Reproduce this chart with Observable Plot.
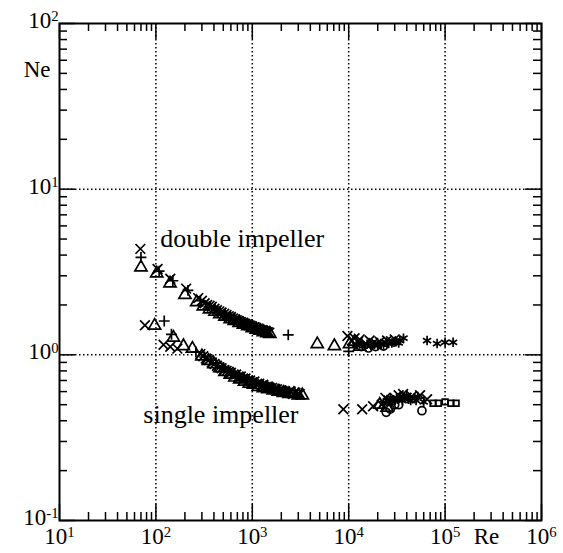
<!DOCTYPE html>
<html><head><meta charset="utf-8">
<script src="https://cdn.jsdelivr.net/npm/d3@7"></script>
<script src="https://cdn.jsdelivr.net/npm/@observablehq/plot@0.6"></script>
<style>body{margin:0;background:#fff}</style>
</head><body><div id="chart"></div>
<script>
// Double impeller series [Re, Ne]
const doubleTimes = [[69,4.36],[104,3.3],[141,2.88],[206,2.51],[275,2.2],[300,2.12],[320,2.05],[340,2.0],[360,1.98],[380,1.95],[405,1.9],[430,1.86],[455,1.83],[480,1.8],[510,1.77],[540,1.74],[570,1.71],[600,1.69],[630,1.66],[660,1.64],[690,1.62],[720,1.6],[760,1.58],[800,1.56],[840,1.54],[880,1.53],[920,1.51],[960,1.5],[1000,1.48],[1050,1.47],[1100,1.45],[1150,1.44],[1200,1.42],[1250,1.41],[1300,1.4],[1350,1.39],[1400,1.38],[1450,1.37],[1500,1.36],[9700,1.30],[10800,1.22],[11500,1.26],[12500,1.2],[13000,1.24],[15000,1.17],[16500,1.22],[18000,1.18],[19500,1.16],[21000,1.2],[25000,1.22],[27500,1.21],[30000,1.24]];
const doubleTri = [[70,3.37],[102,3.1],[140,2.7],[200,2.3],[265,2.08],[310,1.96],[360,1.88],[410,1.82],[460,1.76],[520,1.7],[590,1.64],[650,1.6],[730,1.56],[810,1.52],[900,1.49],[1000,1.45],[1100,1.42],[1200,1.4],[1300,1.37],[1420,1.35],[1520,1.34],[4720,1.16],[7100,1.13],[10200,1.16],[11500,1.2],[13000,1.12]];
const doublePlus = [[70,3.87],[108,3.2],[150,2.8],[215,2.45],[290,2.12],[360,1.96],[440,1.84],[510,1.76],[580,1.7],[650,1.65],[760,1.58],[850,1.54],[950,1.49],[1080,1.45],[1200,1.42],[1300,1.4],[2360,1.32],[10000,1.05]];
const doubleCircle = [[13500,1.12],[16000,1.1],[19000,1.12],[23000,1.13]];
const doubleStar = [[500,1.72],[620,1.63],[750,1.56],[900,1.5],[1100,1.43],[1300,1.38],[12000,1.15],[14000,1.13],[15500,1.16],[17000,1.14],[18500,1.15],[20000,1.14],[21500,1.17],[23000,1.15],[24500,1.19],[26000,1.17],[28000,1.18],[29500,1.19],[31000,1.2],[33000,1.18],[34000,1.22],[37000,1.26],[65000,1.22],[82600,1.17],[100000,1.19],[121000,1.19]];
// Single impeller series [Re, Ne]
const singleTimes = [[77,1.51],[120,1.15],[141,1.12],[167,1.09],[289,1.01],[310,0.98],[330,0.95],[355,0.93],[380,0.9],[405,0.88],[430,0.86],[455,0.84],[480,0.83],[510,0.81],[540,0.8],[570,0.79],[600,0.78],[640,0.76],[680,0.76],[720,0.74],[760,0.74],[800,0.72],[850,0.72],[900,0.7],[950,0.7],[1000,0.68],[1050,0.69],[1120,0.67],[1180,0.67],[1240,0.65],[1300,0.66],[1380,0.64],[1450,0.64],[1520,0.63],[1600,0.63],[1700,0.62],[1800,0.62],[1900,0.61],[2000,0.61],[2100,0.6],[2200,0.6],[2350,0.59],[2500,0.6],[2650,0.58],[2800,0.59],[2950,0.58],[3100,0.58],[8800,0.47],[13800,0.47],[17900,0.49],[22000,0.5],[24000,0.55],[26000,0.53],[30000,0.55],[33000,0.57],[36700,0.58],[40000,0.55],[45000,0.56],[55000,0.57],[65000,0.54]];
const singleTri = [[97,1.5],[152,1.27],[193,1.13],[239,1.09],[300,0.98],[350,0.92],[400,0.88],[460,0.83],[520,0.79],[590,0.76],[660,0.73],[740,0.71],[830,0.69],[930,0.67],[1030,0.66],[1150,0.64],[1300,0.63],[1450,0.62],[1650,0.61],[1850,0.6],[2100,0.59],[2400,0.58],[2700,0.58],[3000,0.57],[3300,0.57],[21000,0.5],[25000,0.48]];
const singlePlus = [[122,1.6],[145,1.33],[260,1.04],[320,0.97],[370,0.93],[420,0.89],[500,0.84],[570,0.8],[640,0.77],[720,0.75],[800,0.73],[900,0.71],[1000,0.69],[1100,0.68],[1250,0.66],[1400,0.65],[1600,0.64],[1900,0.62],[2200,0.61]];
const singleCircle = [[24500,0.45],[27000,0.47],[30000,0.5],[33000,0.5],[57500,0.46]];
const singleStar = [[600,0.77],[800,0.72],[1000,0.68],[1300,0.64],[1700,0.61],[2200,0.59],[2900,0.57],[23000,0.51],[25000,0.53],[27000,0.55],[28000,0.52],[30000,0.53],[32000,0.54],[34000,0.56],[36000,0.53],[38000,0.55],[40000,0.57],[42000,0.54],[44000,0.53],[48000,0.55],[50000,0.53],[52000,0.56],[60000,0.52]];
const singleSquare = [[75000,0.51],[85000,0.51],[100000,0.52],[115000,0.51],[130000,0.51]];

// Axes
const xTickValues = [1e1,1e2,1e3,1e4,1e5,1e6];
const xTickLabels = ["10^1","10^2","10^3","10^4","10^5","10^6"];
const yTickValues = [0.1,1,10,100];
const yTickLabels = ["10^-1","10^0","10^1","10^2"];
const xGrid = [1e2,1e3,1e4,1e5];
const yGrid = [1,10];
const annotations = [
  {Re:111, Ne:4.5, text:"double impeller"},
  {Re:74, Ne:0.388, text:"single impeller"}
];

const W=563, H=553, mL=59, mR=22, mT=23, mB=33;
const innerW = W-mL-mR, innerH = H-mT-mB;
const minorOf = (lo, hi) => { const a=[]; for (let p=lo; p<hi; p++) for (let k=2;k<=9;k++) a.push(k*Math.pow(10,p)); return a; };
const xMinor = minorOf(1,6), yMinor = minorOf(-1,2);
const xMajor = xTickValues, yMajor = yTickValues;
const toRows = pts => pts.map(([Re,Ne]) => ({Re,Ne}));
const dotStyle = {x:"Re", y:"Ne", stroke:"black", strokeWidth:1.7, fill:"none"};

const plot = Plot.plot({
  width: W, height: H,
  marginLeft: mL, marginRight: mR, marginTop: mT, marginBottom: mB,
  x: {type:"log", domain:[1e1,1e6], axis:null},
  y: {type:"log", domain:[0.1,100], axis:null},
  style: {fontFamily:"'Liberation Serif', 'Times New Roman', serif", fontSize:"23px", background:"white", color:"black"},
  marks: [
    Plot.ruleX(xGrid, {x:d=>d, stroke:"black", strokeWidth:1.5, strokeDasharray:"1.5,2.5"}),
    Plot.ruleY(yGrid, {y:d=>d, stroke:"black", strokeWidth:1.5, strokeDasharray:"1.5,2.5"}),
    Plot.tickX(xMinor, {x:d=>d, insetTop: innerH-8, strokeWidth:1.5}),
    Plot.tickX(xMinor, {x:d=>d, insetBottom: innerH-8, strokeWidth:1.5}),
    Plot.tickX(xMajor, {x:d=>d, insetTop: innerH-16, strokeWidth:1.5}),
    Plot.tickX(xMajor, {x:d=>d, insetBottom: innerH-16, strokeWidth:1.5}),
    Plot.tickY(yMinor, {y:d=>d, insetRight: innerW-8, strokeWidth:1.5}),
    Plot.tickY(yMinor, {y:d=>d, insetLeft: innerW-8, strokeWidth:1.5}),
    Plot.tickY(yMajor, {y:d=>d, insetRight: innerW-16, strokeWidth:1.5}),
    Plot.tickY(yMajor, {y:d=>d, insetLeft: innerW-16, strokeWidth:1.5}),
    Plot.frame({stroke:"black", strokeWidth:2}),
    Plot.dot(toRows(doubleTimes), {...dotStyle, symbol:"times", r:4.5}),
    Plot.dot(toRows(doubleTri), {...dotStyle, symbol:"triangle", r:4.5}),
    Plot.dot(toRows(doublePlus), {...dotStyle, symbol:"plus", r:3.6}),
    Plot.dot(toRows(doubleCircle), {...dotStyle, symbol:"circle", r:4}),
    Plot.dot(toRows(doubleStar), {...dotStyle, symbol:"asterisk", r:4.5}),
    Plot.dot(toRows(singleTimes), {...dotStyle, symbol:"times", r:4.5}),
    Plot.dot(toRows(singleTri), {...dotStyle, symbol:"triangle", r:4.5}),
    Plot.dot(toRows(singlePlus), {...dotStyle, symbol:"plus", r:3.6}),
    Plot.dot(toRows(singleCircle), {...dotStyle, symbol:"circle", r:4}),
    Plot.dot(toRows(singleStar), {...dotStyle, symbol:"asterisk", r:4.5}),
    Plot.dot(toRows(singleSquare), {...dotStyle, symbol:"square", r:3.2}),
    Plot.text(xTickValues, {x:d=>d, text:(d,i)=>xTickLabels[i], frameAnchor:"bottom", textAnchor:"middle", dy:23, fontSize:23, fill:"black"}),
    Plot.text(yTickValues, {y:d=>d, text:(d,i)=>yTickLabels[i], frameAnchor:"left", textAnchor:"end", dx:-1, dy:-3, fontSize:23, fill:"black"}),
    Plot.text(["Ne"], {text:d=>d, frameAnchor:"top-left", textAnchor:"end", dx:-9, dy:37, fontSize:23, fill:"black"}),
    Plot.text(["Re"], {text:d=>d, frameAnchor:"bottom-right", textAnchor:"middle", dx:-55, dy:23, fontSize:23, fill:"black"}),
    Plot.text(annotations, {x:"Re", y:"Ne", text:"text", textAnchor:"start", lineAnchor:"bottom", fontSize:26, fill:"black"})
  ]
});

plot.querySelectorAll("text").forEach(t => {
  const m = t.textContent.match(/^10\^(.+)$/);
  if (m) {
    t.textContent = "10";
    const ts = document.createElementNS("http://www.w3.org/2000/svg","tspan");
    ts.setAttribute("dy","-0.45em");
    ts.setAttribute("font-size","0.64em");
    ts.textContent = m[1];
    t.appendChild(ts);
  }
});
document.getElementById("chart").appendChild(plot);
</script>
</body></html>
